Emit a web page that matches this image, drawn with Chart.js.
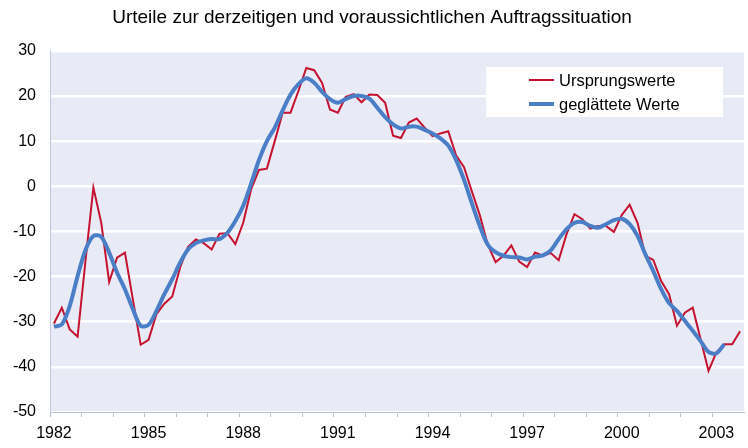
<!DOCTYPE html>
<html>
<head>
<meta charset="utf-8">
<script src="https://cdn.jsdelivr.net/npm/chart.js"></script>
<style>
  body { margin: 0; background: #fff; }
  #wrap { width: 748px; height: 448px; }
</style>
</head>
<body>
<div id="wrap"><canvas id="myChart" width="748" height="448"></canvas></div>
<script>

// Jahre (Quartalsdaten ab 1982 Q1)
const years = [1982, 1983, 1984, 1985, 1986, 1987, 1988, 1989, 1990, 1991, 1992, 1993, 1994, 1995, 1996, 1997, 1998, 1999, 2000, 2001, 2002, 2003];
const quarters = ['Q1', 'Q2', 'Q3', 'Q4'];
const yearLabels = ['1982', '1985', '1988', '1991', '1994', '1997', '2000', '2003'];

const seriesNames = ['Ursprungswerte', 'geglättete Werte'];

const ursprung = [
  -30.4, -26.9, -31.7, -33.3, -16.5, -0.3, -8.1, -21.2, -15.8, -14.7, -25.0, -35.1,
  -34.0, -28.3, -26.0, -24.4, -18.0, -13.4, -11.8, -12.6, -14.0, -10.5, -10.4, -12.8,
  -8.1, -0.7, 3.6, 3.9, 10.0, 16.3, 16.3, 21.1, 26.2, 25.7, 22.9, 17.0,
  16.3, 19.8, 20.4, 18.6, 20.3, 20.2, 18.5, 11.2, 10.7, 14.1, 15.0, 13.0,
  11.1, 11.7, 12.2, 6.8, 4.2, -1.2, -6.4, -12.9, -16.8, -15.4, -13.1, -16.7,
  -17.9, -14.7, -15.4, -14.8, -16.4, -10.6, -6.2, -7.3, -9.4, -8.8, -8.8, -10.1,
  -6.4, -4.1, -8.1, -15.4, -16.3, -21.0, -23.9, -30.9, -28.0, -26.9, -33.9, -40.9,
  -36.8, -35.0, -35.0, -32.1
];

const geglaettet = [
  -31.1, -30.6, -26.5, -19.9, -14.1, -11.0, -11.2, -14.7, -19.1, -22.8, -27.2, -30.9,
  -30.7, -27.6, -23.9, -20.6, -16.9, -14.0, -12.6, -12.0, -11.7, -11.7, -10.3, -7.7,
  -4.3, 0.6, 5.8, 10.0, 13.0, 16.8, 20.3, 22.6, 23.9, 22.9, 20.9, 19.3,
  18.5, 19.3, 20.0, 20.0, 19.4, 17.4, 15.3, 13.7, 12.8, 13.2, 13.2, 12.5,
  11.7, 10.6, 9.0, 5.8, 1.4, -3.8, -8.8, -12.9, -14.6, -15.4, -15.7, -15.8,
  -16.2, -15.6, -15.3, -14.2, -11.7, -9.5, -8.1, -7.9, -8.8, -9.2, -8.4, -7.5,
  -7.2, -8.4, -11.0, -15.1, -18.8, -22.8, -25.9, -27.6, -29.8, -32.0, -34.3, -36.7,
  -37.0, -35.0
];

const yMin = -50, yMax = 30, yStep = 10;

let labels = [];
years.forEach(y => quarters.forEach(q => labels.push(y + ' ' + q)));

const fontFam = "'Liberation Sans', Arial, sans-serif";

// Hintergrund der Zeichenfläche
const plotBg = {
  id: 'plotBg',
  beforeDraw(chart) {
    const { ctx, chartArea: a } = chart;
    ctx.save();
    ctx.fillStyle = '#E8EAF6';
    ctx.fillRect(a.left, a.top, a.right - a.left, a.bottom - a.top);
    ctx.restore();
  }
};

// Legende im Diagramm (weisse Box)
const innerLegend = {
  id: 'innerLegend',
  afterDraw(chart) {
    const ctx = chart.ctx;
    ctx.save();
    ctx.fillStyle = '#fff';
    ctx.fillRect(486, 67, 237, 50);
    ctx.font = '16.5px ' + fontFam;
    ctx.textBaseline = 'middle';
    chart.data.datasets.forEach((ds, i) => {
      const y = 80 + i * 24;
      ctx.strokeStyle = ds.borderColor;
      ctx.lineWidth = ds.borderWidth;
      ctx.beginPath();
      ctx.moveTo(529, y);
      ctx.lineTo(554, y);
      ctx.stroke();
      ctx.fillStyle = '#000';
      ctx.fillText(ds.label, 559, y + 1);
    });
    ctx.restore();
  }
};

const ctx = document.getElementById('myChart');

new Chart(ctx, {
  type: 'line',
  data: {
    labels: labels,
    datasets: [{
      label: seriesNames[0],
      data: ursprung,
      borderColor: '#C4122F',
      borderWidth: 2,
      pointRadius: 0,
      tension: 0,
      order: 2
    }, {
      label: seriesNames[1],
      data: geglaettet,
      borderColor: '#4A7EC6',
      borderWidth: 4,
      pointRadius: 0,
      tension: 0.3,
      order: 1
    }]
  },
  options: {
    responsive: false,
    animation: false,
    layout: { padding: { left: 0, right: 4, top: 0, bottom: 0 } },
    plugins: {
      legend: { display: false },
      tooltip: { enabled: false },
      title: {
        display: true,
        text: 'Urteile zur derzeitigen und voraussichtlichen Auftragssituation',
        color: '#000',
        font: { family: fontFam, size: 19, weight: 'normal' },
        padding: { top: 6, bottom: 22 }
      }
    },
    scales: {
      x: {
        offset: true,
        grid: {
          offset: true,
          drawOnChartArea: false,
          drawTicks: true,
          tickLength: 5,
          tickColor: c => (c.index % 4 === 0 ? '#B8BCD9' : 'rgba(0,0,0,0)')
        },
        border: { color: '#B8BCD9', width: 1 },
        ticks: {
          autoSkip: false,
          maxRotation: 0,
          padding: 7,
          color: '#000',
          font: { family: fontFam, size: 16 },
          callback: function (val, i) {
            const y = this.getLabelForValue(val).slice(0, 4);
            return (i % 4 === 0 && yearLabels.includes(y)) ? y : '';
          }
        },
        afterFit: s => { s.height = 36; }
      },
      y: {
        min: yMin,
        max: yMax,
        grid: {
          color: '#fff',
          lineWidth: 2.5,
          drawTicks: false
        },
        border: { color: '#C4C8E0', width: 1 },
        ticks: {
          stepSize: yStep,
          padding: 14,
          color: '#000',
          font: { family: fontFam, size: 16 }
        },
        afterFit: s => { s.width = 50; }
      }
    }
  },
  plugins: [plotBg, innerLegend]
});

</script>
</body>
</html>
